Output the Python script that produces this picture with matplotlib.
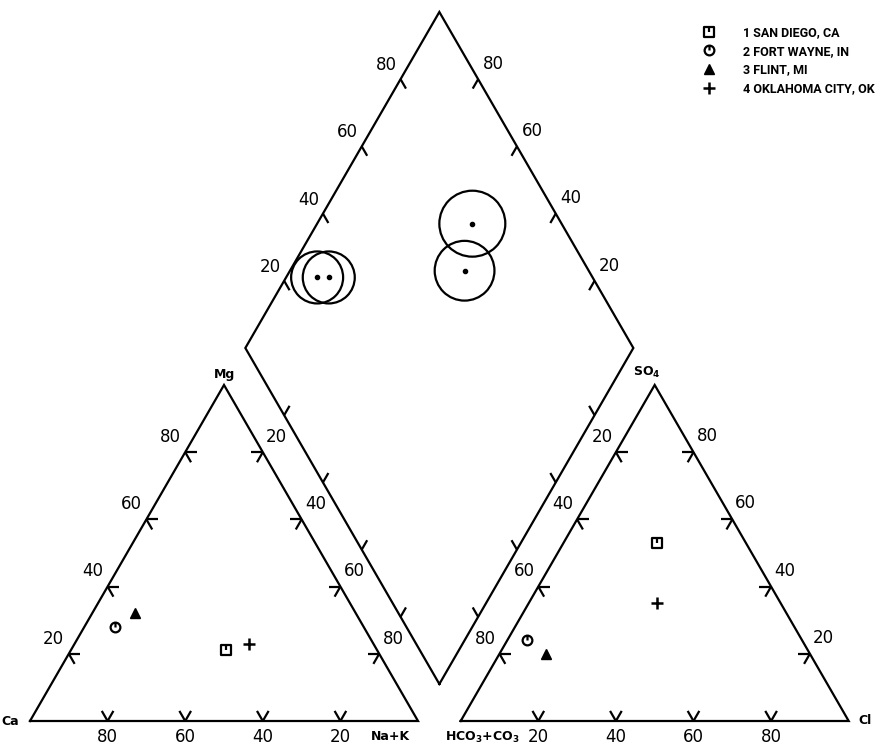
import numpy as np
import matplotlib.pyplot as plt
from matplotlib.path import Path
from matplotlib.lines import Line2D
from matplotlib.patches import Circle

# Percent of total meq/L
sites = ['1 SAN DIEGO, CA', '2 FORT WAYNE, IN', '3 FLINT, MI', '4 OKLAHOMA CITY, OK']
ca = [39, 64, 57, 32]
mg = [21, 28, 32, 23]
nak = [40, 8, 11, 45]
hco3 = [23, 71, 68, 32]
so4 = [53, 24, 20, 35]
cl = [24, 5, 12, 33]
circle_r = [8.5, 6.7, 6.7, 7.7]   # size of the circles in the diamond
scale_vals = [20, 40, 60, 80]

h = np.sqrt(3) / 2
gap = 11
ox = 100 + gap   # x offset of the anion triangle

# marker shapes used in the report
sq_tick = Path([(-1, -1), (1, -1), (1, 1), (-1, 1), (-1, -1), (0, 1), (0, 0.1)],
               [Path.MOVETO, Path.LINETO, Path.LINETO, Path.LINETO, Path.CLOSEPOLY,
                Path.MOVETO, Path.LINETO])
circ_tick = Path.make_compound_path(Path.unit_circle(), Path([(0, 1), (0, 0)]))
markers = [
    dict(marker=sq_tick, ms=7, mfc='none', mec='black', mew=1.6),
    dict(marker=circ_tick, ms=7, mfc='none', mec='black', mew=1.6),
    dict(marker='^', ms=7, mfc='black', mec='black', mew=1),
    dict(marker='+', ms=8, mec='black', mew=1.8),
]

fig = plt.figure(figsize=(8.79, 7.5), dpi=100)
ax = fig.add_axes([0, 0, 1, 1])
ax.set_xlim(-7.732, 218.81)
ax.set_ylim(-7.474, 185.82)
ax.axis('off')

lw = 1.6
num_kw = dict(fontsize=12, ha='center', va='center', color='black')


def tick(p, angles, length=3.0):
    for a in angles:
        r = np.radians(a)
        ax.plot([p[0], p[0] + length * np.cos(r)], [p[1], p[1] + length * np.sin(r)],
                color='black', lw=lw, solid_capstyle='butt')


# triangles
for x0 in [0, ox]:
    ax.plot([x0, x0 + 100, x0 + 50, x0], [0, 0, 100 * h, 0], color='black', lw=lw,
            solid_joinstyle='miter')

# diamond
B = np.array([100 + gap / 2, gap * h])
L = B + 100 * np.array([-0.5, h])
R = B + 100 * np.array([0.5, h])
T = B + np.array([0, 200 * h])
dia = np.array([B, L, T, R, B])
ax.plot(dia[:, 0], dia[:, 1], color='black', lw=lw, solid_joinstyle='miter')

for v in scale_vals:
    # cation triangle
    p = (100 - v, 0)
    tick(p, [60, 120])
    ax.text(p[0], -4.1, str(v), **num_kw)
    p = (v / 2, h * v)
    tick(p, [0, 300])
    ax.text(p[0] - 3.9, p[1] + 3.9, str(v), **num_kw)
    p = (100 - (100 - v) / 2, h * (100 - v))
    tick(p, [180, 240])
    ax.text(p[0] + 3.6, p[1] + 3.9, str(v), **num_kw)
    # anion triangle
    p = (ox + v, 0)
    tick(p, [60, 120])
    ax.text(p[0], -4.1, str(v), **num_kw)
    p = (ox + (100 - v) / 2, h * (100 - v))
    tick(p, [0, 300])
    ax.text(p[0] - 3.6, p[1] + 3.9, str(v), **num_kw)
    p = (ox + 100 - v / 2, h * v)
    tick(p, [180, 240])
    ax.text(p[0] + 3.5, p[1] + 4.1, str(v), **num_kw)
    # diamond
    f = v / 100
    p = L + f * (T - L)
    tick(p, [300], 2.8)
    ax.text(p[0] - 3.6, p[1] + 3.6, str(v), **num_kw)
    p = R + f * (T - R)
    tick(p, [240], 2.8)
    ax.text(p[0] + 3.9, p[1] + 3.9, str(v), **num_kw)
    tick(L + f * (B - L), [60], 2.8)
    tick(R + f * (B - R), [120], 2.8)

# corner labels
lab_kw = dict(fontsize=9, fontweight='bold', color='black')
ax.text(-2.8, 0, 'Ca', ha='right', va='center', **lab_kw)
ax.text(93, -4.1, 'Na+K', ha='center', va='center', **lab_kw)
ax.text(50, 100 * h + 2.6, 'Mg', ha='center', va='center', **lab_kw)
ax.text(ox + 5.5, -4.3, r'$\mathbf{HCO_3{+}CO_3}$', ha='center', va='center', **lab_kw)
ax.text(ox + 102.5, 0.2, 'Cl', ha='left', va='center', **lab_kw)
ax.text(ox + 48, 100 * h + 3.3, r'$\mathbf{SO_4}$', ha='center', va='center', **lab_kw)

# points
handles = []
for i in range(len(sites)):
    x1, y1 = nak[i] + mg[i] / 2, h * mg[i]
    x2, y2 = ox + cl[i] + so4[i] / 2, h * so4[i]
    ax.plot(x1, y1, ls='none', **markers[i])
    ax.plot(x2, y2, ls='none', **markers[i])
    t = x2 - x1 - 0.5 * (y1 - y2) / h
    xd, yd = x1 + 0.5 * t, y1 + h * t
    ax.plot(xd, yd, 'o', color='black', ms=3)
    ax.add_patch(Circle((xd, yd), circle_r[i], fill=False, ec='black', lw=lw))
    handles.append(Line2D([], [], ls='none', **markers[i]))

ax.legend(handles, sites, loc='upper left', bbox_to_anchor=(703 / 879, 1 - 26 / 750),
          frameon=False, borderpad=0, borderaxespad=0, handlelength=1.0,
          handletextpad=2.2, labelspacing=0.45,
          prop=dict(family=['Roboto', 'DejaVu Sans'], weight='bold', size=9))

fig.savefig('out.png', dpi=100, facecolor='white')
